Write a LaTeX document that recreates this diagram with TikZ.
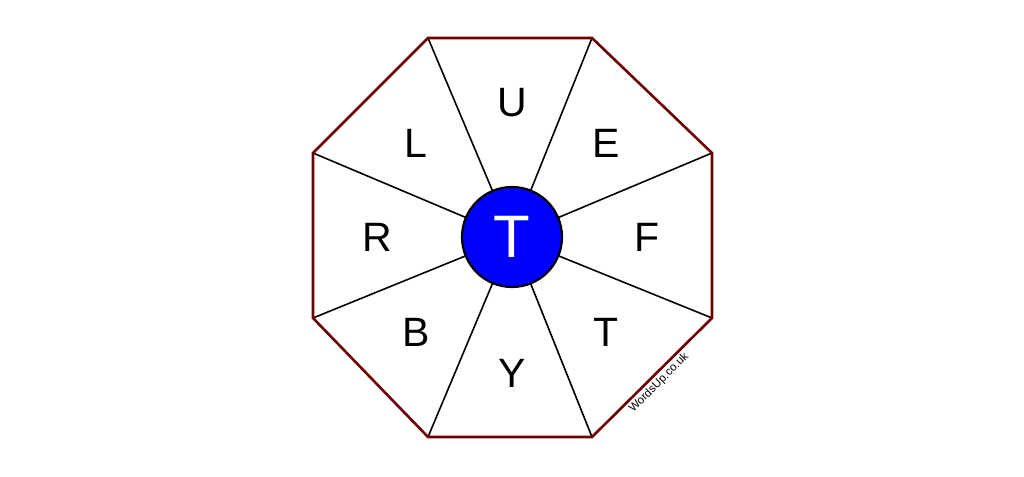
\documentclass[tikz,border=0pt]{standalone}
\usepackage{fontspec}
\setmainfont{Liberation Sans}
\usepackage{tikz}
\usetikzlibrary{positioning}

\begin{document}
\begin{tikzpicture}[
    x=1pt, y=-1pt,
    rim/.style={
    	draw=rimred,
    	line width=2.6pt,
    	line join=miter
    }, spoke/.style={
    	draw=black,
    	line width=1.6pt
    }, letter/.style={
    	font=\fontsize{41}{48}\selectfont,
    	inner sep=0pt, anchor=center
    }, hub/.style={
    	draw=black, circle, fill=hubblue,
    	line width=2.2pt, minimum size=100pt, inner sep=0pt,
    	text=white, font=\fontsize{60}{70}\selectfont
    }]
    \definecolor{rimred}{RGB}{110, 0, 0}
    \definecolor{hubblue}{RGB}{0, 0, 255}

    \useasboundingbox (0,0) rectangle (1024,476);

    \coordinate (v1) at (428,38);
    \coordinate (v2) at (592,38);
    \coordinate (v3) at (712,153);
    \coordinate (v4) at (712,318);
    \coordinate (v5) at (592,437);
    \coordinate (v6) at (428,437);
    \coordinate (v7) at (313,318);
    \coordinate (v8) at (313,153);
    \coordinate (mid) at (512,237);

    \draw[spoke] (v1) -- (mid);
    \draw[spoke] (v2) -- (mid);
    \draw[spoke] (v3) -- (mid);
    \draw[spoke] (v4) -- (mid);
    \draw[spoke] (v5) -- (mid);
    \draw[spoke] (v6) -- (mid);
    \draw[spoke] (v7) -- (mid);
    \draw[spoke] (v8) -- (mid);

    \draw[rim] (v1) -- (v2) -- (v3) -- (v4) -- (v5) -- (v6) -- (v7) -- (v8) -- cycle;

    \node[hub] (centre) at (mid) {T};

    \node[letter] (u) at (512,103) {U};
    \node[letter] (e) at (606,143) {E};
    \node[letter] (f) at (647,237) {F};
    \node[letter] (t) at (606,332) {T};
    \node[letter] (y) at (512,373) {Y};
    \node[letter] (b) at (416,332) {B};
    \node[letter] (r) at (377,237) {R};
    \node[letter] (l) at (416,143) {L};

    \node[font=\fontsize{11.5}{13}\selectfont, rotate=45, inner sep=0pt] (mark) at (659,383) {WordsUp.co.uk};

\end{tikzpicture}
\end{document}
